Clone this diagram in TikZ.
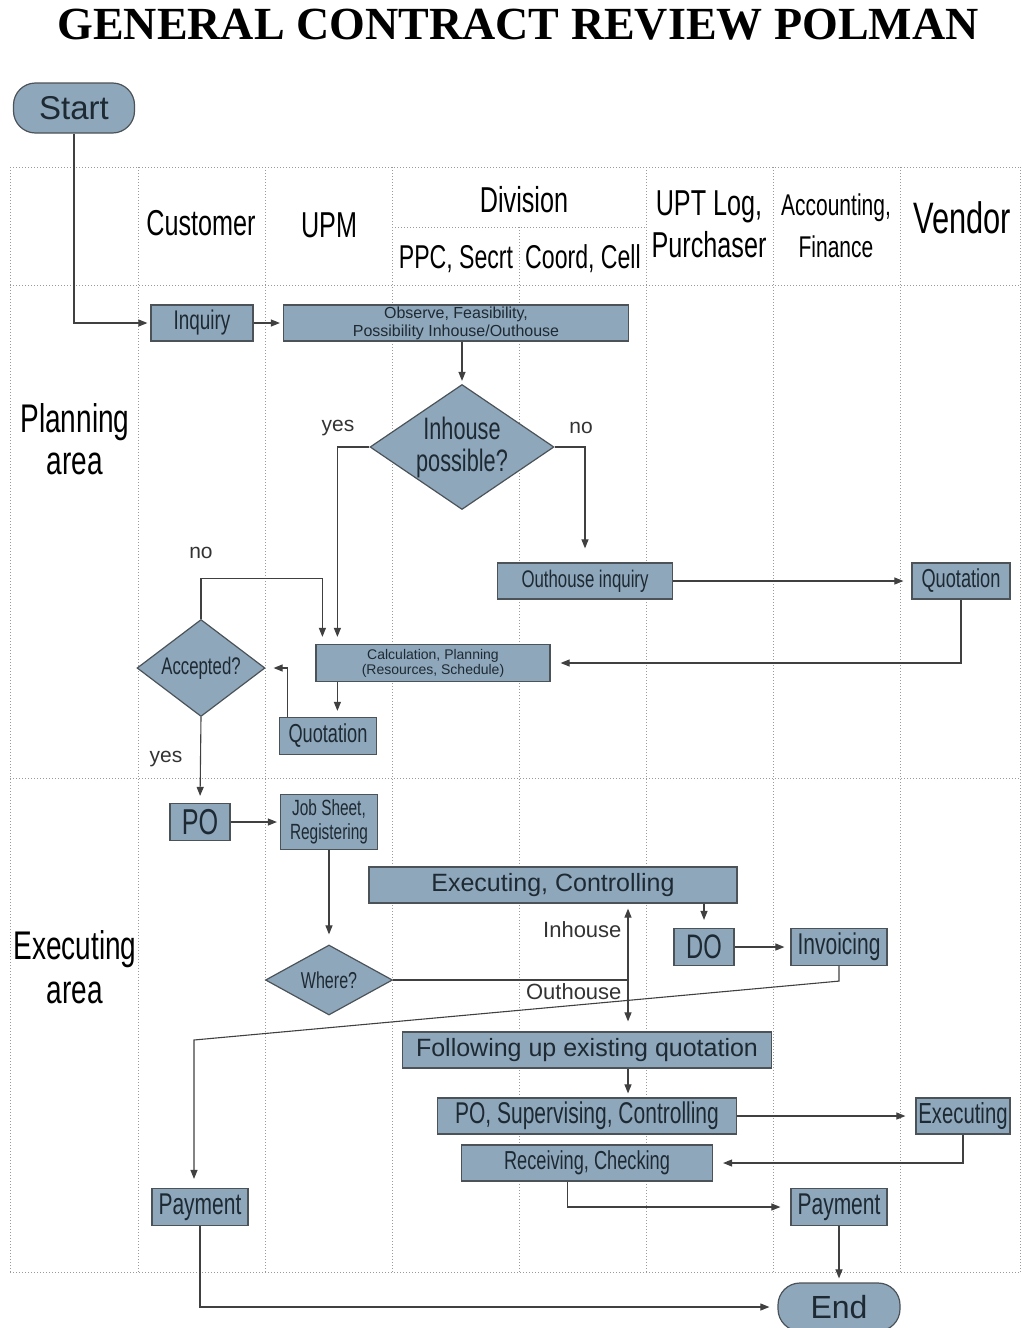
\documentclass[tikz,border=0pt]{standalone}
\usepackage{fontspec}
\setmainfont{Liberation Sans}
\newfontfamily\nrw{Liberation Sans}[FakeStretch=0.7]
\newfontfamily\ttl{Liberation Serif}
\usetikzlibrary{shapes.geometric,arrows.meta}
\definecolor{boxfill}{HTML}{8EA7BB}
\definecolor{boxline}{HTML}{4B5258}
\definecolor{ink}{HTML}{1E2A33}
\definecolor{gridgray}{HTML}{9A9A9A}
\newcommand\fsz[2]{\fontsize{#1}{#2}\selectfont}
\tikzset{
	box/.style={draw=boxline, fill=boxfill, line width=1.2pt, inner sep=0pt, text=ink, align=center},
	dec/.style={box, diamond, aspect=1.5},
	term/.style={box, rounded corners=22pt},
	link/.style={draw=black!75, line width=1.1pt},
	flow/.style={link, -{Triangle[length=9pt,width=7pt]}, shorten >=3pt},
	lane/.style={gridgray, line width=0.9pt, dash pattern=on 1pt off 2pt},
	head/.style={text=black, align=center},
	lbl/.style={text=black!80, font=\fsz{21}{22}},
}

\begin{document}
\begin{tikzpicture}[x=1pt,y=-1pt]
\useasboundingbox (0,0) rectangle (1022,1328);

\node[head, font=\ttl\bfseries\fsz{46}{48}] (title) at (518,25) {GENERAL CONTRACT REVIEW POLMAN};

% swimlanes
\foreach \x in {10,138,265,392,646,773,900,1020}
	\draw[lane] (\x,167) -- (\x,1272);
\draw[lane] (519,227) -- (519,1272);
\foreach \y in {167,285,778,1272}
	\draw[lane] (10,\y) -- (1020,\y);
\draw[lane] (392,227) -- (646,227);

\node[head, font=\nrw\fsz{36}{40}] (hcust) at (201,223) {Customer};
\node[head, font=\nrw\fsz{36}{40}] (hupm) at (329,225) {UPM};
\node[head, font=\nrw\fsz{36}{40}] (hdiv) at (524,200) {Division};
\node[head, font=\nrw\fsz{33}{40}] (hppc) at (456,259) {PPC, Secrt};
\node[head, font=\nrw\fsz{33}{40}] (hcoord) at (583,259) {Coord, Cell};
\node[head, font=\nrw\fsz{36}{42}] (hlog) at (709,224) {UPT Log,\\Purchaser};
\node[head, font=\nrw\fsz{30}{42}] (hacc) at (836,226) {Accounting,\\Finance};
\node[head, font=\nrw\fsz{44}{46}] (hvend) at (962,218) {Vendor};
\node[head, font=\nrw\fsz{40}{42}] (hplan) at (75,439) {Planning\\area};
\node[head, font=\nrw\fsz{40}{44}] (hexec) at (75,967) {Executing\\area};

% planning area
\node[term, minimum width=121pt, minimum height=50pt, font=\fsz{33}{36}] (start) at (74,108) {Start};
\node[box, minimum width=102pt, minimum height=36pt, font=\nrw\fsz{27}{30}] (inq) at (202,323) {Inquiry};
\node[box, minimum width=345pt, minimum height=36pt, font=\fsz{16}{18}] (obs) at (456,323) {Observe, Feasibility,\\Possibility Inhouse/Outhouse};
\node[dec, minimum width=184pt, minimum height=125pt, font=\nrw\fsz{31}{32}] (inh) at (462,447) {Inhouse\\possible?};
\node[box, minimum width=175pt, minimum height=36pt, font=\nrw\fsz{24}{26}] (out) at (585,581) {Outhouse inquiry};
\node[box, minimum width=98pt, minimum height=36pt, font=\nrw\fsz{26}{28}] (vq) at (961,581) {Quotation};
\node[box, minimum width=234pt, minimum height=37pt, font=\fsz{14}{15}] (calc) at (433,663) {Calculation, Planning\\(Resources, Schedule)};
\node[box, minimum width=97pt, minimum height=37pt, font=\nrw\fsz{26}{28}] (quo) at (328,736) {Quotation};
\node[dec, minimum width=128pt, minimum height=97pt, font=\nrw\fsz{24}{26}] (acc) at (201,668) {Accepted?};

\node[lbl] (yes1) at (338,428) {yes};
\node[lbl] (no1) at (581,428) {no};
\node[lbl] (no2) at (201,553) {no};
\node[lbl] (yes2) at (166,759) {yes};

% executing area
\node[box, minimum width=60pt, minimum height=37pt, font=\nrw\fsz{36}{38}] (po) at (200,822) {PO};
\node[box, minimum width=97pt, minimum height=55pt, font=\nrw\fsz{22}{24}] (job) at (329,822) {Job Sheet,\\Registering};
\node[dec, minimum width=127pt, minimum height=70pt, font=\nrw\fsz{23}{24}] (wh) at (329,980) {Where?};
\node[box, minimum width=368pt, minimum height=36pt, font=\fsz{25}{27}] (exe) at (553,885) {Executing, Controlling};
\node[box, minimum width=60pt, minimum height=37pt, font=\nrw\fsz{34}{36}] (do) at (704,947) {DO};
\node[box, minimum width=96pt, minimum height=37pt, font=\nrw\fsz{30}{32}] (inv) at (839,947) {Invoicing};
\node[box, minimum width=369pt, minimum height=36pt, font=\fsz{25}{27}] (fol) at (587,1050) {Following up existing quotation};
\node[box, minimum width=299pt, minimum height=36pt, font=\nrw\fsz{30}{32}] (pos) at (587,1116) {PO, Supervising, Controlling};
\node[box, minimum width=94pt, minimum height=36pt, font=\nrw\fsz{29}{30}] (vex) at (963,1116) {Executing};
\node[box, minimum width=251pt, minimum height=36pt, font=\nrw\fsz{26}{28}] (rec) at (587,1163) {Receiving, Checking};
\node[box, minimum width=96pt, minimum height=37pt, font=\nrw\fsz{30}{32}] (pay2) at (839,1207) {Payment};
\node[box, minimum width=96pt, minimum height=37pt, font=\nrw\fsz{30}{32}] (pay1) at (200,1207) {Payment};
\node[term, minimum width=122pt, minimum height=48pt, font=\fsz{32}{34}] (end) at (839,1307) {End};

\node[lbl, anchor=east, font=\fsz{22}{24}] (lin) at (625,930) {Inhouse};
\node[lbl, anchor=east, font=\fsz{22}{24}] (lout) at (625,992) {Outhouse};

% connectors
\coordinate (cq) at ([xshift=22pt]calc.south west);
\coordinate (split) at (628,980);
\coordinate (kink) at (194,1040);
\coordinate (rc) at ([xshift=107pt]rec.south west);

\draw[flow] (start.south) |- (inq.west);
\draw[flow] (inq) -- (obs);
\draw[flow] (obs.south -| inh.north) -- (inh.north);
\draw[flow, shorten >=7pt] (inh.west) -| ([xshift=22pt]calc.north west);
\draw[flow, shorten >=14pt] (inh.east) -| (out.north);
\draw[flow, shorten >=8pt] (out) -- (vq);
\draw[flow, shorten >=10pt] (vq.south) |- (calc.east);
\draw[flow, shorten >=6pt] (cq) -- (cq |- quo.north);
\draw[flow, shorten >=8pt] ([xshift=9pt]quo.north west) |- (acc.east);
\draw[flow, shorten >=7pt] (acc.north) -- ++(0,-40) -| ([xshift=7pt]calc.north west);
\draw[flow, shorten >=7pt] (acc.south) -- (po.north);
\draw[flow] (po) -- (job);
\draw[flow, shorten >=10pt] (job) -- (wh);
\draw[link] (wh.east) -- (split);
\draw[flow, shorten >=5pt] (split) -- (split |- exe.south);
\draw[flow, shorten >=10pt] (split) -- (split |- fol.north);
\draw[flow, shorten >=8pt] (exe.south -| do.north) -- (do.north);
\draw[flow, shorten >=6pt] (do) -- (inv);
\draw[flow, shorten >=9pt] (inv.south) -- ++(0,15) -- (kink) -- (kink |- pay1.north);
\draw[flow, shorten >=4pt] (split |- fol.south) -- (split |- pos.north);
\draw[flow, shorten >=10pt] (pos) -- (vex);
\draw[flow, shorten >=10pt] (vex.south) |- (rec.east);
\draw[flow, shorten >=10pt] (rc) |- (pay2.west);
\draw[flow, shorten >=4pt] (pay2) -- (end);
\draw[flow, shorten >=8pt] (pay1.south) |- (end.west);
\end{tikzpicture}
\end{document}
